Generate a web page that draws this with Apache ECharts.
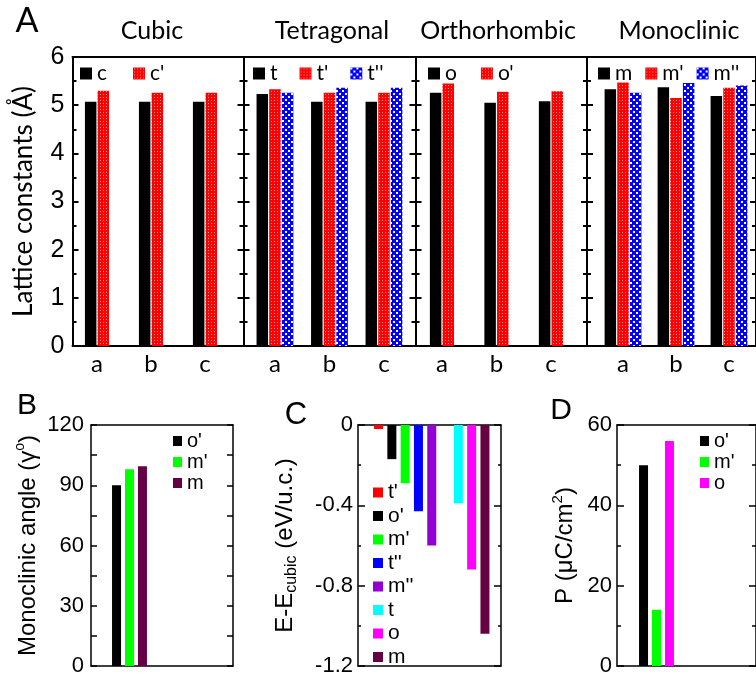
<!DOCTYPE html>
<html>
<head>
<meta charset="utf-8">
<script src="https://cdn.jsdelivr.net/npm/echarts/dist/echarts.min.js"></script>
<style>
  html, body { margin: 0; padding: 0; background: #fff; }
  #chart { width: 756px; height: 678px; }
</style>
</head>
<body>
<div id="chart"></div>
<script>
// ---- data ----
const latticeLabels = ['a', 'b', 'c'];
// cubic
const cubicC  = [5.07, 5.07, 5.07];
const cubicC1 = [5.30, 5.26, 5.26];
// tetragonal
const tetraT  = [5.23, 5.07, 5.07];
const tetraT1 = [5.33, 5.26, 5.26];
const tetraT2 = [5.26, 5.36, 5.36];
// orthorhombic
const orthoO  = [5.26, 5.05, 5.08];
const orthoO1 = [5.45, 5.28, 5.29];
// monoclinic
const monoM  = [5.33, 5.37, 5.19];
const monoM1 = [5.47, 5.15, 5.36];
const monoM2 = [5.26, 5.46, 5.41];

// B: monoclinic angle
const angleNames  = ["o'", "m'", 'm'];
const angleValues = [90, 98, 99.5];

// C: energy relative to cubic (one empty slot between the two groups)
const energyNames  = ["t'", "o'", "m'", "t''", "m''", 't', 'o', 'm'];
const energyValues = [-0.02, -0.17, -0.29, -0.43, -0.60, -0.39, -0.72, -1.04];
const energySlots  = ["t'", "o'", "m'", "t''", "m''", '', 't', 'o', 'm'];

// D: polarization
const polNames  = ["o'", "m'", 'o'];
const polValues = [50, 14, 56];

// ---- styles ----
const SANS = '"Liberation Sans", Arial, sans-serif';
const CAL = 'Lato, sans-serif';

function pattern(kind) {
  const c = document.createElement('canvas');
  const g = c.getContext('2d');
  if (kind === 'red') {
    c.width = c.height = 3;
    g.fillStyle = '#ff0000'; g.fillRect(0, 0, 3, 3);
    g.fillStyle = '#ff9c9c'; g.fillRect(1, 1, 1, 1);
  } else {
    c.width = c.height = 6;
    g.fillStyle = '#0000ff'; g.fillRect(0, 0, 6, 6);
    g.fillStyle = '#ffffff'; g.fillRect(0, 0, 2, 2); g.fillRect(3, 3, 2, 2);
  }
  return { image: c, repeat: 'repeat' };
}
const RED = pattern('red');
const BLUE = pattern('blue');

const phaseColor = {
  "t'": '#ff0000', "o'": '#000000', "m'": '#00ff00', "t''": '#0000ff',
  "m''": '#9400d3', 't': '#00ffff', 'o': '#ff00ff', 'm': '#660044'
};

const chart = echarts.init(document.getElementById('chart'));
const grid = [], xAxis = [], yAxis = [], series = [], legend = [], graphic = [];

// box with ticks pointing inwards on both sides
function addFrame(box, ax, lw, showLabels, name) {
  const gi = grid.length;
  grid.push({ left: box.l, top: box.t, width: box.r - box.l, height: box.b - box.t });
  ['bottom', 'top'].forEach(p => xAxis.push({
    gridIndex: gi, type: 'value', min: 0, max: 1, position: p,
    axisLine: { show: true, onZero: false, lineStyle: { color: '#000', width: lw } },
    axisTick: { show: false }, axisLabel: { show: false }, splitLine: { show: false }
  }));
  ['left', 'right'].forEach(p => {
    const y = {
      gridIndex: gi, type: 'value', min: ax.min, max: ax.max, interval: ax.step, position: p,
      axisLine: { show: true, onZero: false, lineStyle: { color: '#000', width: lw } },
      axisTick: { show: true, inside: true, length: ax.tick, lineStyle: { color: '#000', width: lw } },
      minorTick: { show: true, splitNumber: 2, length: ax.minor, lineStyle: { color: '#000', width: lw } },
      splitLine: { show: false },
      axisLabel: { show: p === 'left' && showLabels, color: '#000', fontFamily: SANS, fontSize: ax.font, margin: ax.margin }
    };
    if (p === 'left' && name) Object.assign(y, name);
    yAxis.push(y);
  });
}

// grid holding the bars, same height and scale as its frame
function addData(box, left, width, ax, cats, label) {
  const gi = grid.length;
  grid.push({ left: left, top: box.t, width: width, height: box.b - box.t });
  xAxis.push({
    gridIndex: gi, type: 'category', data: cats,
    axisLine: { show: false }, axisTick: { show: false },
    axisLabel: label || { show: false }
  });
  yAxis.push({ gridIndex: gi, type: 'value', min: ax.min, max: ax.max, show: false });
  return { xi: xAxis.length - 1, yi: yAxis.length - 1 };
}

function text(str, x, y, font) {
  graphic.push({ type: 'text', x: x, y: y, style: { text: str, font: font, fill: '#000', align: 'center', verticalAlign: 'middle' } });
}

const strip = n => n.split('|')[1];

// ---- A: lattice constants ----
const topAxis = { min: 0, max: 6, step: 1, tick: 6, minor: 4, font: 25, margin: 8 };
const topPanels = [
  { key: 'A1', title: 'Cubic', tx: 152, l: 72.5, r: 243.5, dl: 70, dw: 162, lg: 80, gap: 26,
    bars: [['c', cubicC, '#000'], ["c'", cubicC1, RED]] },
  { key: 'A2', title: 'Tetragonal', tx: 332, l: 243.5, r: 415.5, dl: 247.7, dw: 163.5, lg: 253, gap: 22,
    bars: [['t', tetraT, '#000'], ["t'", tetraT1, RED], ["t''", tetraT2, BLUE]] },
  { key: 'A3', title: 'Orthorhombic', tx: 498, l: 415.5, r: 587, dl: 414.7, dw: 163.5, lg: 428, gap: 24,
    bars: [['o', orthoO, '#000'], ["o'", orthoO1, RED]] },
  { key: 'A4', title: 'Monoclinic', tx: 679, l: 587, r: 759, dl: 596.5, dw: 159, lg: 598, gap: 13,
    bars: [['m', monoM, '#000'], ["m'", monoM1, RED], ["m''", monoM2, BLUE]] }
];
topPanels.forEach((p, i) => {
  const box = { l: p.l, r: p.r, t: 57, b: 346 };
  addFrame(box, topAxis, 2, i === 0, i === 0 ? {
    name: 'Lattice constants (Å)', nameLocation: 'middle', nameRotate: 90, nameGap: 36,
    nameTextStyle: { fontFamily: CAL, fontSize: 26, color: '#000' }
  } : null);
  const d = addData(box, p.dl, p.dw, topAxis, latticeLabels,
    { show: true, color: '#000', fontFamily: CAL, fontSize: 24, margin: 6 });
  p.bars.forEach(b => series.push({
    type: 'bar', name: p.key + '|' + b[0], xAxisIndex: d.xi, yAxisIndex: d.yi,
    data: b[1], barWidth: 11.5, barGap: '10%', itemStyle: { color: b[2] }
  }));
  legend.push({
    left: p.lg, top: 63, padding: 0, orient: 'horizontal', icon: 'rect', itemWidth: 12, itemHeight: 12,
    itemGap: p.gap, selectedMode: false, formatter: strip,
    data: p.bars.map(b => p.key + '|' + b[0]),
    textStyle: { fontFamily: CAL, fontSize: 21, color: '#000' }
  });
  text(p.title, p.tx, 31, '25px Lato');
});
text('A', 27, 21, '34px Lato');

// ---- B: monoclinic angle ----
const boxB = { l: 91, r: 233, t: 425, b: 666 };
const axB = { min: 0, max: 120, step: 30, tick: 6, minor: 6, font: 22, margin: 7 };
addFrame(boxB, axB, 1.5, true, {
  name: 'Monoclinic angle (γ{sup|o})', nameLocation: 'middle', nameRotate: 90, nameGap: 40,
  nameTextStyle: { fontFamily: SANS, fontSize: 24, color: '#000', lineHeight: 30,
    rich: { sup: { fontFamily: SANS, fontSize: 14, verticalAlign: 'top', lineHeight: 30, color: '#000' } } }
});
const dB = addData(boxB, 110, 39, axB, ['γ']);
angleNames.forEach((n, i) => series.push({
  type: 'bar', name: 'B|' + n, xAxisIndex: dB.xi, yAxisIndex: dB.yi,
  data: [angleValues[i]], barWidth: 9, barGap: '44%', itemStyle: { color: phaseColor[n] }
}));
legend.push({
  left: 173, top: 431, padding: 0, orient: 'vertical', icon: 'rect', itemWidth: 9, itemHeight: 10, itemGap: 1,
  selectedMode: false, formatter: strip, data: angleNames.map(n => 'B|' + n),
  textStyle: { fontFamily: SANS, fontSize: 20, color: '#000' }
});
text('B', 27, 406, '30px "Liberation Sans"');

// ---- C: energy ----
const boxC = { l: 358, r: 501, t: 425, b: 666 };
const axC = { min: -1.2, max: 0, step: 0.4, tick: 7, minor: 3, font: 22, margin: 5 };
addFrame(boxC, axC, 1.5, true, {
  name: 'E-E{sub|cubic} (eV/u.c.)', nameLocation: 'middle', nameRotate: 90, nameGap: 58,
  nameTextStyle: { fontFamily: SANS, fontSize: 24, color: '#000', lineHeight: 30,
    rich: { sub: { fontFamily: SANS, fontSize: 16, verticalAlign: 'bottom', lineHeight: 30, color: '#000' } } }
});
const dC = addData(boxC, 371.9, 119.7, axC, energySlots);
energyNames.forEach((n, i) => series.push({
  type: 'bar', name: 'C|' + n, xAxisIndex: dC.xi, yAxisIndex: dC.yi, stack: 'energy',
  data: energySlots.map(s => s === n ? energyValues[i] : '-'),
  barWidth: 9, itemStyle: { color: phaseColor[n] }
}));
legend.push({
  left: 373, top: 482, padding: 0, orient: 'vertical', icon: 'rect', itemWidth: 10, itemHeight: 10, itemGap: 2.5,
  selectedMode: false, formatter: strip, data: energyNames.map(n => 'C|' + n),
  textStyle: { fontFamily: SANS, fontSize: 21, color: '#000' }
});
text('C', 296, 415, '31px "Liberation Sans"');

// ---- D: polarization ----
const boxD = { l: 617, r: 759, t: 425, b: 666 };
const axD = { min: 0, max: 60, step: 20, tick: 7, minor: 4, font: 22, margin: 5 };
addFrame(boxD, axD, 1.5, true, {
  name: 'P (μC/cm{sup|2})', nameLocation: 'middle', nameRotate: 90, nameGap: 37,
  nameTextStyle: { fontFamily: SANS, fontSize: 24, color: '#000', lineHeight: 30,
    rich: { sup: { fontFamily: SANS, fontSize: 15, verticalAlign: 'top', lineHeight: 30, color: '#000' } } }
});
const dD = addData(boxD, 637, 39, axD, ['P']);
polNames.forEach((n, i) => series.push({
  type: 'bar', name: 'D|' + n, xAxisIndex: dD.xi, yAxisIndex: dD.yi,
  data: [polValues[i]], barWidth: 9, barGap: '44%', itemStyle: { color: phaseColor[n] }
}));
legend.push({
  left: 700, top: 431, padding: 0, orient: 'vertical', icon: 'rect', itemWidth: 9, itemHeight: 10, itemGap: 1,
  selectedMode: false, formatter: strip, data: polNames.map(n => 'D|' + n),
  textStyle: { fontFamily: SANS, fontSize: 20, color: '#000' }
});
text('D', 561, 411, '30px "Liberation Sans"');

chart.setOption({
  animation: false,
  grid: grid, xAxis: xAxis, yAxis: yAxis, series: series, legend: legend, graphic: graphic
});
</script>
</body>
</html>
